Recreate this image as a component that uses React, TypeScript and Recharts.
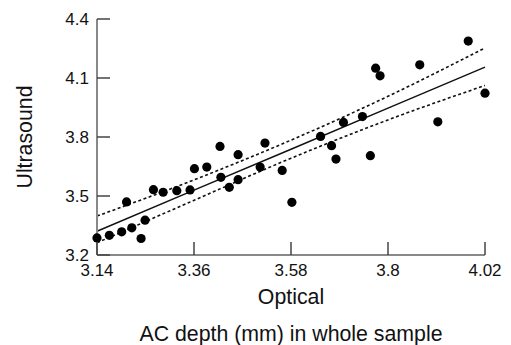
import { ComposedChart, Line, Scatter, XAxis, YAxis, Label } from 'recharts'

const optical = [
  3.14, 3.168, 3.196, 3.207, 3.219, 3.24, 3.249, 3.268, 3.29, 3.321, 3.351, 3.361,
  3.389, 3.419, 3.421, 3.44, 3.46, 3.46, 3.51, 3.521, 3.56, 3.582, 3.647, 3.672,
  3.682, 3.699, 3.742, 3.76, 3.772, 3.782, 3.872, 3.913, 3.982, 4.02,
]
const ultrasound = [
  3.287, 3.3, 3.318, 3.47, 3.338, 3.284, 3.377, 3.532, 3.519, 3.527, 3.531, 3.639,
  3.647, 3.752, 3.595, 3.544, 3.71, 3.583, 3.647, 3.769, 3.63, 3.468, 3.803, 3.756,
  3.688, 3.874, 3.904, 3.705, 4.15, 4.111, 4.167, 3.877, 4.288, 4.023,
]

const lineX = [3.14, 3.36, 3.58, 3.8, 4.02]
const fitY = [3.321, 3.53, 3.738, 3.947, 4.155]
const upperY = [3.398, 3.582, 3.784, 4.007, 4.253]
const lowerY = [3.262, 3.478, 3.692, 3.887, 4.062]

const xTicks = [3.14, 3.36, 3.58, 3.8, 4.02]
const yTicks = [3.2, 3.5, 3.8, 4.1, 4.4]

const points = optical.map((x, i) => ({ x, y: ultrasound[i] }))
const fit = lineX.map((x, i) => ({ x, y: fitY[i] }))
const upper = lineX.map((x, i) => ({ x, y: upperY[i] }))
const lower = lineX.map((x, i) => ({ x, y: lowerY[i] }))

const font = '"Liberation Sans", Arial, sans-serif'
const TICK_LEN = 13

function XTick(props: any) {
  const { x, y, payload } = props
  const base = y - 8
  return (
    <g>
      <line x1={payload.coordinate} x2={payload.coordinate} y1={base} y2={base - TICK_LEN} stroke="#444" strokeWidth={1.5} />
      <text x={x} y={base + 21} textAnchor="middle" fontSize={17} fontFamily={font} fill="#111">
        {payload.value}
      </text>
    </g>
  )
}

function YTick(props: any) {
  const { x, y, payload } = props
  const base = x + 8
  return (
    <g>
      <line x1={base} x2={base + TICK_LEN} y1={payload.coordinate} y2={payload.coordinate} stroke="#444" strokeWidth={1.5} />
      <text x={x} y={y} dy={6} textAnchor="end" fontSize={17} fontFamily={font} fill="#111">
        {payload.value}
      </text>
    </g>
  )
}

export default function App() {
  return (
    <div style={{ position: 'absolute', left: 0, top: 0, background: '#fff' }}>
      <ComposedChart width={511} height={345} margin={{ top: 19, right: 26, bottom: 50, left: 0 }}>
        <XAxis
          type="number"
          dataKey="x"
          domain={[3.14, 4.02]}
          ticks={xTicks}
          tickSize={0}
          tickMargin={8}
          tick={XTick}
          interval={0}
          height={40}
          axisLine={{ stroke: '#888', strokeWidth: 2 }}
          tickLine={false}
        >
          <Label
            content={({ viewBox }: any) => (
              <g>
                <text x={viewBox.x + viewBox.width / 2} y={viewBox.y + 49} textAnchor="middle" fontSize={21.3} fontFamily={font} fill="#111">
                  Optical
                </text>
                <text x={viewBox.x + viewBox.width / 2} y={viewBox.y + 86} textAnchor="middle" fontSize={21.3} fontFamily={font} fill="#111">
                  AC depth (mm) in whole sample
                </text>
              </g>
            )}
          />
        </XAxis>
        <YAxis
          type="number"
          domain={[3.2, 4.4]}
          ticks={yTicks}
          tickSize={0}
          tickMargin={8}
          tick={YTick}
          interval={0}
          width={97}
          axisLine={{ stroke: '#888', strokeWidth: 2 }}
          tickLine={false}
        >
          <Label
            content={({ viewBox }: any) => {
              const cx = 25
              const cy = viewBox.y + viewBox.height / 2
              return (
                <text x={cx} y={cy} transform={`rotate(-90, ${cx}, ${cy})`} textAnchor="middle" dominantBaseline="central" fontSize={21.3} fontFamily={font} fill="#111">
                  Ultrasound
                </text>
              )
            }}
          />
        </YAxis>
        <Line data={upper} dataKey="y" type="monotone" stroke="#111" strokeWidth={1.6} strokeDasharray="3 2.5" dot={false} isAnimationActive={false} />
        <Line data={lower} dataKey="y" type="monotone" stroke="#111" strokeWidth={1.6} strokeDasharray="3 2.5" dot={false} isAnimationActive={false} />
        <Line data={fit} dataKey="y" type="linear" stroke="#111" strokeWidth={1.5} dot={false} isAnimationActive={false} />
        <Scatter data={points} dataKey="y" fill="#000" isAnimationActive={false}
          shape={(p: any) => <circle cx={p.cx} cy={p.cy} r={4.6} fill="#000" />} />
      </ComposedChart>
    </div>
  )
}
